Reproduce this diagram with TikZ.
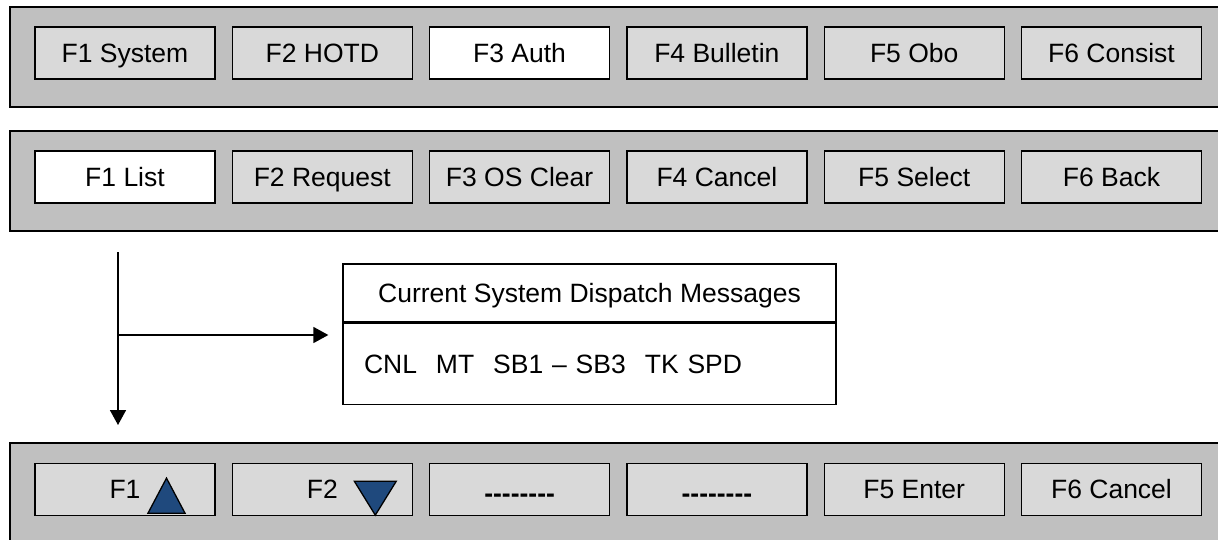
\documentclass[tikz,border=0pt]{standalone}
\usepackage{fontspec}
\newfontfamily\panelfont{Liberation Sans}
\usetikzlibrary{arrows.meta,positioning}
\definecolor{barfill}{HTML}{C0C0C0}
\definecolor{keyfill}{HTML}{D9D9D9}
\definecolor{arrowblue}{HTML}{1F497D}

\begin{document}
\begin{tikzpicture}[x=1pt,y=-1pt,>={Triangle[length=15pt,width=16pt]},node distance=16pt,
  bar/.style={draw=black,line width=2pt,fill=barfill,minimum width=1220pt,minimum height=100pt,inner sep=0pt},
  key/.style={draw=black,line width=1.3pt,fill=keyfill,minimum width=180pt,minimum height=52pt,inner sep=0pt,
    text height=19pt,text depth=0.5pt,font=\panelfont\fontsize{26.5}{31}\selectfont},
  keyon/.style={key,fill=white},
  msg/.style={draw=black,line width=1.3pt,fill=white,minimum width=493pt,inner sep=0pt,
    text height=19pt,text depth=0.5pt,font=\panelfont\fontsize{26.5}{31}\selectfont},
  tri/.style={draw=black,line width=1.3pt,fill=arrowblue,line join=miter}]
\useasboundingbox (0,0) rectangle (1218,539);
\clip (0,0) rectangle (1218,539);
% function key bars
\node[bar] (mainbar) at (620,57) {};
\node[bar] (authbar) at (620,181) {};
\node[bar] (listbar) at (620,493) {};
% main menu
\node[key] (m1) at (125,53) {F1 System};
\node[key,right=of m1] (m2) {F2 HOTD};
\node[keyon,right=of m2] (m3) {F3 Auth};
\node[key,right=of m3] (m4) {F4 Bulletin};
\node[key,right=of m4] (m5) {F5 Obo};
\node[key,right=of m5] (m6) {F6 Consist};
% authority menu
\node[keyon] (a1) at (125,177) {F1 List};
\node[key,right=of a1] (a2) {F2 Request};
\node[key,right=of a2] (a3) {F3 OS Clear};
\node[key,right=of a3] (a4) {F4 Cancel};
\node[key,right=of a4] (a5) {F5 Select};
\node[key,right=of a5] (a6) {F6 Back};
% list menu
\node[key] (l1) at (125,489.5) {F1};
\node[key,right=of l1] (l2) {F2};
\node[key,right=of l2] (l3) {\raisebox{-4pt}{\bfseries --------}};
\node[key,right=of l3] (l4) {\raisebox{-4pt}{\bfseries --------}};
\node[key,right=of l4] (l5) {F5 Enter};
\node[key,right=of l5] (l6) {F6 Cancel};
\draw[tri] ([shift={(23pt,3pt)}]l1.south) -- ([shift={(60pt,3pt)}]l1.south)
  -- ([shift={(41.5pt,38pt)}]l1.south) -- cycle;
\draw[tri] ([shift={(32pt,35pt)}]l2.south) -- ([shift={(74pt,35pt)}]l2.south)
  -- ([shift={(53pt,1pt)}]l2.south) -- cycle;
% message list
\node[msg,minimum height=58pt] (title) at (589.5,293) {Current System Dispatch Messages};
\node[msg,below=0pt of title,minimum height=81pt,text width=451pt,inner xsep=21pt,align=left] (codes)
  {CNL\hspace{19pt}MT\hspace{19pt}SB1 – SB3\hspace{19pt}TK SPD};
\coordinate (listtop) at (118,252);
\coordinate (listend) at (118,425);
\coordinate (branch) at (118,335);
\draw[->,line width=1.6pt] (listtop) -- (listend);
\draw[->,line width=1.6pt,shorten >=14pt] (branch) -- (branch -| title.west);
\end{tikzpicture}
\end{document}
